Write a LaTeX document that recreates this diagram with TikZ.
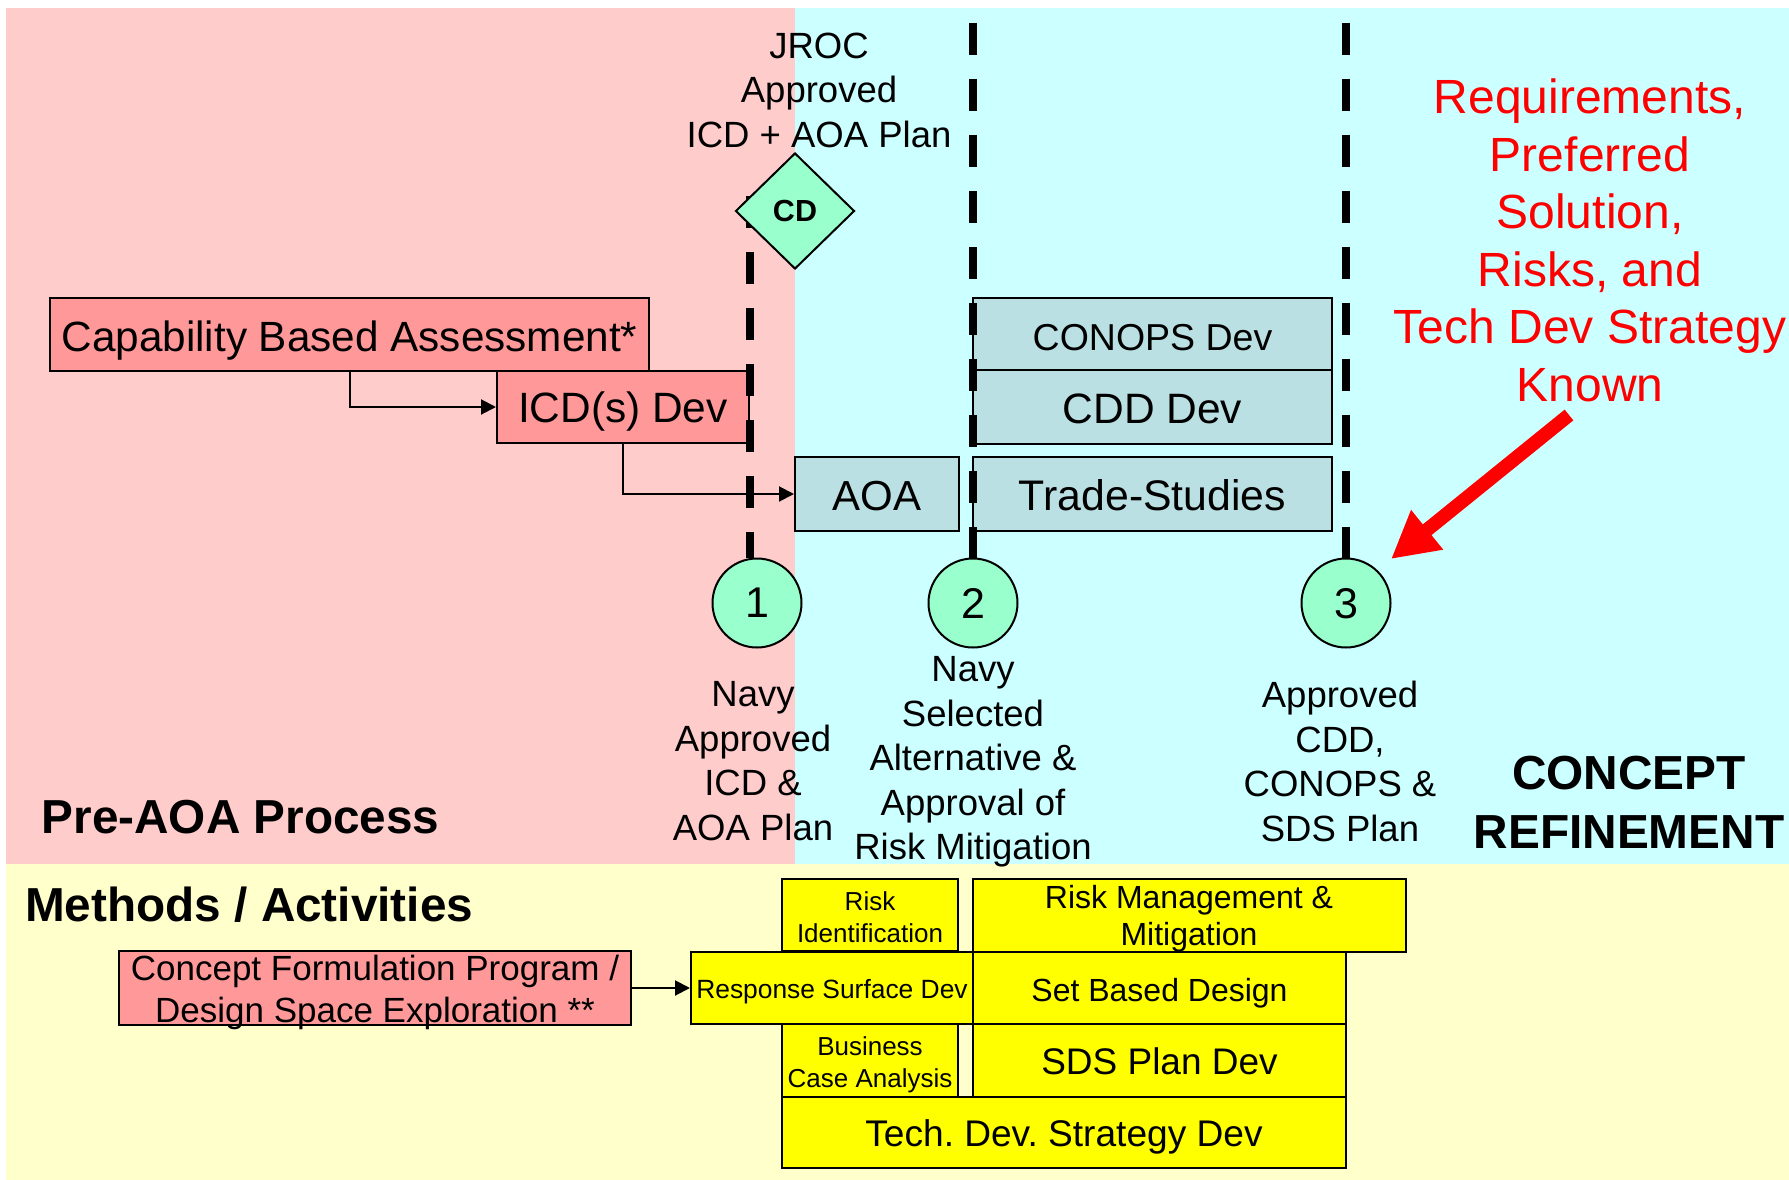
\documentclass[tikz,border=0pt]{standalone}
\usepackage{fontspec}
\setmainfont{Liberation Sans}
\usetikzlibrary{arrows.meta,shapes.geometric}
\definecolor{pinkbg}{HTML}{FFCCCC}
\definecolor{cyanbg}{HTML}{CCFFFF}
\definecolor{yelbg}{HTML}{FFFFCC}
\definecolor{salmon}{HTML}{FF9999}
\definecolor{bluebox}{HTML}{BBE0E3}
\definecolor{mint}{HTML}{99FFCC}
\definecolor{yelbox}{HTML}{FFFF00}
\newcommand\fsz[2]{\fontsize{#1}{#2}\selectfont}
\frenchspacing
\begin{document}
\begin{tikzpicture}[x=1pt,y=-1pt,
  box/.style={draw=black, line width=2pt, inner sep=0pt, text depth=0pt},
  salbox/.style={box, fill=salmon},
  blubox/.style={box, fill=bluebox},
  yelbx/.style={box, fill=yelbox},
  txt/.style={inner sep=0pt, align=center},
  conn/.style={line width=2pt, -{Triangle[length=15pt,width=15pt]}},
  gate/.style={line width=7.5pt, dash pattern=on 32pt off 24pt},
  milestone/.style={circle, draw, line width=2pt, fill=mint, minimum size=89pt, inner sep=0pt, text depth=0pt, font=\fsz{43}{50}},
  heading/.style={inner sep=0pt, text depth=0pt, font=\bfseries\fsz{47.7}{57}},
]
\useasboundingbox (0,0) rectangle (1789,1180);
\fill[white] (0,0) rectangle (1789,1180);
\fill[pinkbg] (6,8) rectangle (795,864);
\fill[cyanbg] (795,8) rectangle (1789,864);
\fill[yelbg] (6,864) rectangle (1789,1180);

% upper boxes
\node[salbox, minimum width=599pt, minimum height=73pt, text height=33.2pt, font=\fsz{42.3}{50}] (cba) at (349.5,334.5) {Capability Based Assessment*};
\node[salbox, minimum width=252pt, minimum height=72pt, text height=31.8pt, font=\fsz{42.4}{50}] (icd) at (623,407) {ICD(s) Dev};
\node[blubox, minimum width=164pt, minimum height=74pt, text height=32.2pt, font=\fsz{42}{50}] (aoa) at (877,494) {AOA};
\node[blubox, minimum width=359pt, minimum height=72pt, text height=32.8pt, font=\fsz{37.5}{44}] (conops) at (1152.5,334) {CONOPS Dev};
\node[blubox, minimum width=359pt, minimum height=74pt, text height=33.6pt, font=\fsz{42.5}{50}] (cdd) at (1152.5,407) {CDD Dev};
\node[blubox, minimum width=359pt, minimum height=74pt, text height=33.4pt, font=\fsz{42.8}{50}] (trade) at (1152.5,494) {Trade-Studies};

\draw[conn] (cba.south) |- (icd.west);
\draw[conn] (icd.south) |- (aoa.west);

% milestones
\node[milestone] (m1) at (757,603) {1};
\node[milestone] (m2) at (973,603) {2};
\node[milestone] (m3) at (1346,603) {3};

\coordinate (g1top) at (750,196);
\coordinate (g2top) at (973,23);
\coordinate (g3top) at (1346,23);
\draw[gate] (g1top) -- (g1top |- m1.north);
\draw[gate] (g2top) -- (m2.north);
\draw[gate] (g3top) -- (m3.north);

\node[diamond, draw, line width=2pt, fill=mint, minimum width=119pt, minimum height=116pt, inner sep=0pt, font=\bfseries\fsz{30.5}{36}] (cd) at (795,211) {CD};

% texts
\node[txt, anchor=north, font=\fsz{36.5}{44.5}] (jroc) at (819,32.5) {JROC\\Approved\\ICD + AOA Plan};
\node[txt, anchor=north, font=\fsz{36.5}{44.7}] (l1) at (753,681) {Navy\\Approved\\ICD \&\\AOA Plan};
\node[txt, anchor=north, font=\fsz{36.5}{44.5}] (l2) at (973,656.5) {Navy\\Selected\\Alternative \&\\Approval of\\Risk Mitigation};
\node[txt, anchor=north, font=\fsz{36.5}{44.6}] (l3) at (1340,681) {Approved\\CDD,\\CONOPS \&\\SDS Plan};
\node[txt, anchor=north, text=red, font=\fsz{48}{57.6}] (req) at (1590,78.5) {Requirements,\\Preferred\\Solution,\\Risks, and\\Tech Dev Strategy\\Known};
\node[heading, txt, anchor=north, font=\bfseries\fsz{47.8}{58.5}] (cr) at (1629,756) {CONCEPT\\REFINEMENT};
\node[heading, anchor=west] (pre) at (41.5,817) {Pre-AOA Process};
\node[heading, anchor=west] (meth) at (25,904) {Methods / Activities};

% red arrow
\coordinate (rtail) at (1569,415);
\coordinate (rtip) at (1391,559);
\draw[red, line width=13.8pt, -{Triangle[length=46.5pt, width=47.6pt]}] (rtail) -- (rtip);

% methods / activities
\node[salbox, minimum width=512pt, minimum height=74pt] (cf) at (375,988) {};
\node[txt, anchor=north, font=\fsz{35}{42}] (cft) at (375,954.7) {Concept Formulation Program /\\Design Space Exploration **};

\node[yelbx, minimum width=176pt, minimum height=72pt] (rid) at (870,915) {};
\node[txt, anchor=north, font=\fsz{26}{32}] (ridt) at (870,891) {Risk\\Identification};
\node[yelbx, minimum width=432.5pt, minimum height=73pt] (rmm) at (1189.25,915.5) {};
\node[txt, anchor=north, font=\fsz{32}{36.5}] (rmmt) at (1189,885.5) {Risk Management \&\\Mitigation};
\node[yelbx, minimum width=282pt, minimum height=72pt, text height=21pt, font=\fsz{26.4}{32}] (rsd) at (832,988) {Response Surface Dev};
\node[yelbx, minimum width=373pt, minimum height=72pt, text height=26pt, font=\fsz{32}{38}] (sbd) at (1159.5,988) {Set Based Design};
\node[yelbx, minimum width=176pt, minimum height=73pt] (bca) at (870,1060.5) {};
\node[txt, anchor=north, font=\fsz{26}{31.5}] (bcat) at (870,1036.7) {Business\\Case Analysis};
\node[yelbx, minimum width=373pt, minimum height=73pt, text height=27.6pt, font=\fsz{37}{44}] (sds) at (1159.5,1060.5) {SDS Plan Dev};
\node[yelbx, minimum width=564pt, minimum height=71pt, text height=27.4pt, font=\fsz{37.1}{42}] (tds) at (1064,1132.5) {Tech. Dev. Strategy Dev};

\draw[conn] (cf.east) -- (rsd.west);
\end{tikzpicture}
\end{document}
